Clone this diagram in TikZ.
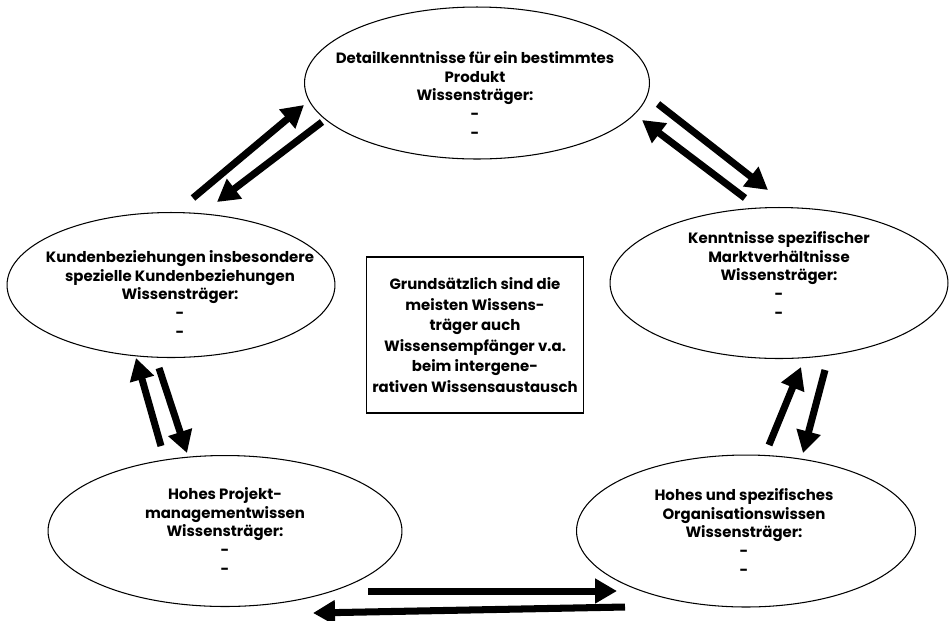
\documentclass[tikz,border=0pt]{standalone}
\usepackage{fontspec}
\setmainfont{Poppins}
\usetikzlibrary{shapes.geometric,arrows.meta}

\begin{document}
\begin{tikzpicture}[x=0.02cm,y=-0.02cm,
	oval/.style={draw,ellipse,line width=0.6pt,inner sep=0pt},
	txt/.style={align=center,font=\bfseries\fontsize{8.5}{10.8}\selectfont},
	pfeil/.style={line width=4pt,-{Triangle[length=12.5pt,width=13.5pt]}}]
	\useasboundingbox (0,0) rectangle (950,620);
	\node[oval,minimum width=6.9cm,minimum height=3.04cm] (prod) at (477,83) {};
	\node[oval,minimum width=6.56cm,minimum height=2.9cm] (kunden) at (171,285) {};
	\node[oval,minimum width=6.76cm,minimum height=3.02cm] (markt) at (779,283) {};
	\node[oval,minimum width=7.08cm,minimum height=3.02cm] (projekt) at (225,531) {};
	\node[oval,minimum width=6.78cm,minimum height=3.04cm] (orga) at (746,531) {};
	\node[txt] (prodtxt) at (475,95) {Detailkenntnisse für ein bestimmtes\\Produkt\\Wissensträger:\\-\\-};
	\node[txt] (kundentxt) at (180,294) {Kundenbeziehungen insbesondere\\spezielle Kundenbeziehungen\\Wissensträger:\\-\\-};
	\node[txt] (markttxt) at (779,275) {Kenntnisse spezifischer\\Marktverhältnisse\\Wissensträger:\\-\\-};
	\node[txt] (projekttxt) at (225,531) {Hohes Projekt-\\managementwissen\\Wissensträger:\\-\\-};
	\node[txt] (orgatxt) at (744,532) {Hohes und spezifisches\\Organisationswissen\\Wissensträger:\\-\\-};
	\node[draw,line width=0.6pt,minimum width=4.2cm,minimum height=3.12cm,txt,
		font=\bfseries\fontsize{8.5}{11.7}\selectfont] (mitte) at (475,335)
		{Grundsätzlich sind die\\meisten Wissens-\\träger auch\\Wissensempfänger v.a.\\beim intergene-\\rativen Wissensaustausch};
	\coordinate (kp1) at (193,198);
	\coordinate (kp2) at (304,105);
	\coordinate (pk1) at (322,122);
	\coordinate (pk2) at (217,202);
	\coordinate (pm1) at (658,104);
	\coordinate (pm2) at (768,190);
	\coordinate (mp1) at (745,198);
	\coordinate (mp2) at (642,120);
	\coordinate (jk1) at (161,446);
	\coordinate (jk2) at (136,358);
	\coordinate (kj1) at (159,368);
	\coordinate (kj2) at (187,453);
	\coordinate (om1) at (769,445);
	\coordinate (om2) at (801,367);
	\coordinate (mo1) at (825,370);
	\coordinate (mo2) at (803,453);
	\coordinate (jo1) at (368,591);
	\coordinate (jo2) at (617,591);
	\coordinate (oj1) at (625,607);
	\coordinate (oj2) at (313,613);
	\draw[pfeil] (kp1) -- (kp2);
	\draw[pfeil] (pk1) -- (pk2);
	\draw[pfeil] (pm1) -- (pm2);
	\draw[pfeil] (mp1) -- (mp2);
	\draw[pfeil] (jk1) -- (jk2);
	\draw[pfeil] (kj1) -- (kj2);
	\draw[pfeil] (om1) -- (om2);
	\draw[pfeil] (mo1) -- (mo2);
	\draw[pfeil] (jo1) -- (jo2);
	\draw[pfeil] (oj1) -- (oj2);
\end{tikzpicture}
\end{document}
